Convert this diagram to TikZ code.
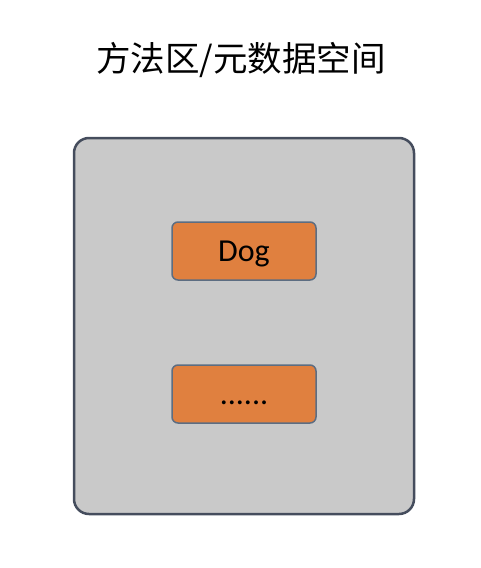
\documentclass[tikz,border=0pt]{standalone}
\usepackage{fontspec}
\setmainfont{Carlito}
\newfontfamily\cjk{Noto Sans CJK SC}
\definecolor{outerfill}{HTML}{C9C9C9}
\definecolor{outerline}{HTML}{454D5D}
\definecolor{boxfill}{HTML}{E0803F}
\definecolor{boxline}{HTML}{5C6D82}
\begin{document}
\begin{tikzpicture}[x=1pt,y=-1pt,
  outerbox/.style={draw=outerline,fill=outerfill,line width=2.5pt,rounded corners=15pt},
  itembox/.style={draw=boxline,fill=boxfill,line width=1.5pt,rounded corners=6pt,minimum width=144pt,minimum height=58pt,inner sep=0pt,text height=22pt,text depth=2pt,font=\fontsize{32}{38}\selectfont}]
\useasboundingbox (0,0) rectangle (480,568);
\node[font=\cjk\fontsize{34.5}{40}\selectfont] (title) at (241,60) {方法区/元数据空间};
\draw[outerbox] (74,138) rectangle (414,514);
\node[itembox] (dog) at (244,251) {Dog};
\node[itembox] (more) at (244,394) {......};
\end{tikzpicture}
\end{document}
